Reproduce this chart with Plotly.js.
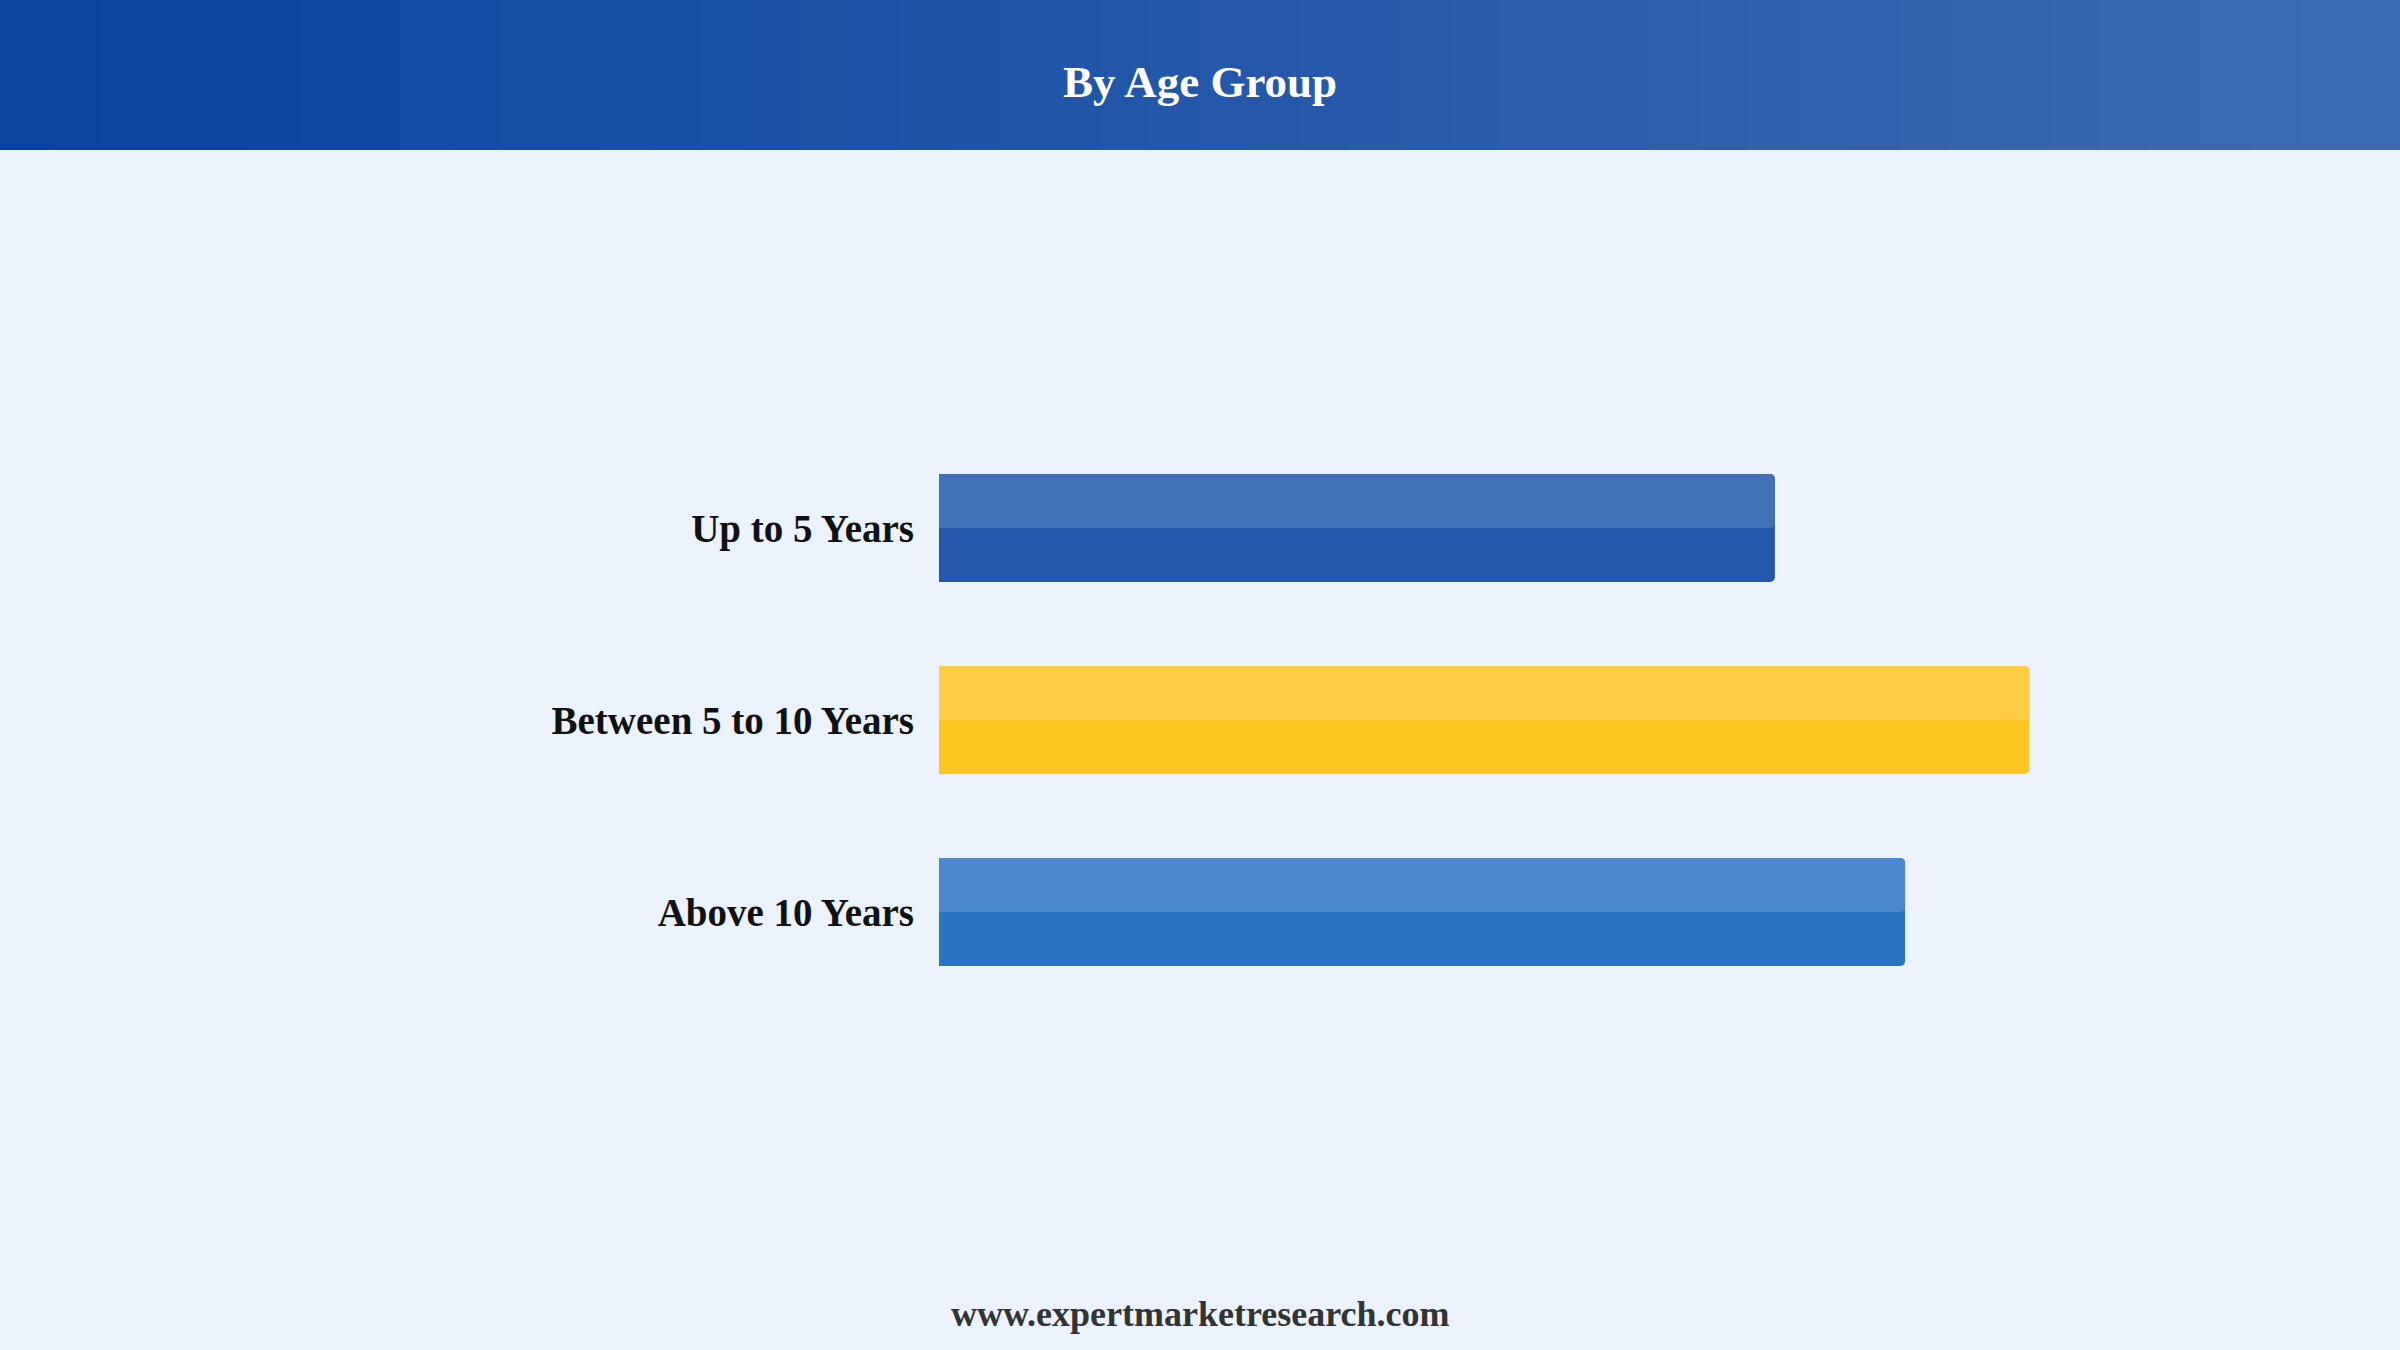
<!DOCTYPE html>
<html>
<head>
<meta charset="utf-8">
<script src="https://cdn.plot.ly/plotly-3.0.1.min.js"></script>
<style>
  html, body { margin: 0; padding: 0; background: #EBF2FC; }
  #chart { width: 2400px; height: 1350px; }
</style>
</head>
<body>
<div id="chart"></div>
<script>
var categories = ['Up to 5 Years', 'Between 5 to 10 Years', 'Above 10 Years'];
var shares = [28.9, 37.7, 33.4];
var darkColors = ['#2358AC', '#FCC51F', '#2A72C4'];
var lightColors = ['#4270B4', '#FECD44', '#4A87CD'];

var W = 2400, H = 1350;

// header band, drawn as thin strips to fake the left-to-right gradient
function mix(a, b, t) {
    return 'rgb(' + [0, 1, 2].map(function (i) {
        return Math.round(a[i] + (b[i] - a[i]) * t);
    }).join(',') + ')';
}
var headerShapes = [];
var strips = 48;
for (var i = 0; i < strips; i++) {
    headerShapes.push({
        type: 'rect', xref: 'paper', yref: 'paper', layer: 'below',
        x0: i / strips, x1: (i + 1) / strips + 0.001,
        y0: 1 - 150 / H, y1: 1,
        fillcolor: mix([11, 67, 160], [61, 107, 179], i / (strips - 1)),
        line: { width: 0 }
    });
}

var darkBars = {
    type: 'bar',
    orientation: 'h',
    y: categories,
    x: shares,
    width: 0.5625,
    marker: { color: darkColors, cornerradius: 5 },
    hoverinfo: 'skip'
};

var lightBars = {
    type: 'bar',
    orientation: 'h',
    y: categories,
    x: shares,
    width: 0.28125,
    offset: -0.28125,
    marker: { color: lightColors, cornerradius: 5 },
    hoverinfo: 'skip'
};

var layout = {
    width: W,
    height: H,
    margin: { l: 0, r: 0, t: 0, b: 0 },
    paper_bgcolor: '#EBF2FC',
    plot_bgcolor: 'rgba(0,0,0,0)',
    showlegend: false,
    barmode: 'overlay',
    title: {
        text: '<b>By Age Group</b>',
        x: 0.5, xanchor: 'center',
        y: 1 - 81 / H, yanchor: 'middle',
        font: { family: 'Liberation Serif, Times New Roman, serif', size: 45, color: '#ffffff' }
    },
    xaxis: {
        domain: [939 / W, 2096 / W],
        range: [0, 40],
        showgrid: false, zeroline: false, showline: false,
        showticklabels: false, fixedrange: true
    },
    yaxis: {
        domain: [(H - 1008) / H, (H - 432) / H],
        type: 'category',
        range: [2.5, -0.5],
        showgrid: false, zeroline: false, showline: false,
        ticks: '',
        ticklabelstandoff: 24,
        tickfont: { family: 'Liberation Serif, Times New Roman, serif', size: 39, color: '#111111', weight: 'bold' },
        fixedrange: true
    },
    shapes: headerShapes,
    annotations: [{
        text: '<b>www.expertmarketresearch.com</b>',
        xref: 'paper', yref: 'paper',
        x: 0.5, y: 1 - 1314 / H,
        xanchor: 'center', yanchor: 'middle',
        showarrow: false,
        font: { family: 'Liberation Serif, Times New Roman, serif', size: 36, color: '#333333' }
    }]
};

Plotly.newPlot('chart', [darkBars, lightBars], layout, { displayModeBar: false, staticPlot: true });
</script>
</body>
</html>
